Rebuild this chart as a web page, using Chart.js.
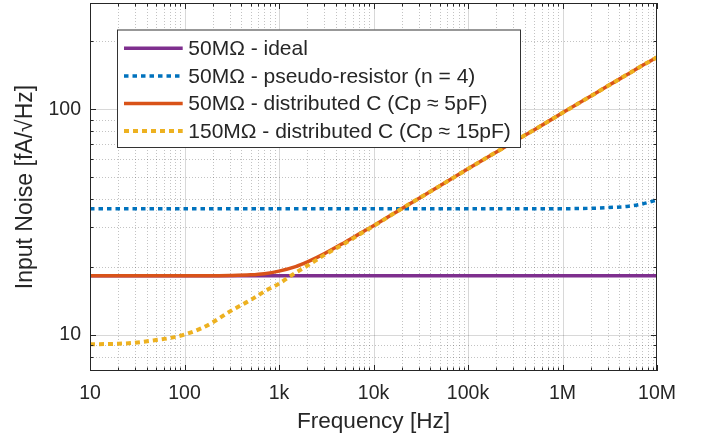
<!DOCTYPE html>
<html>
<head>
<meta charset="utf-8">
<script src="https://cdn.jsdelivr.net/npm/chart.js@4.4.0/dist/chart.umd.min.js"></script>
<style>
  html, body { margin: 0; padding: 0; background: #ffffff; }
  #wrap { width: 705px; height: 443px; }
</style>
</head>
<body>
<div id="wrap"><canvas id="c" width="705" height="443"></canvas></div>
<script>
// ---- data ----
const frequencies   = [10, 20, 30, 50, 70, 100, 150, 200, 300, 500, 700, 1e3, 1.5e3, 2e3, 3e3, 5e3, 7e3, 1e4, 2e4, 5e4, 1e5, 2e5, 5e5, 1e6, 2e6, 3e6, 5e6, 7e6, 1e7];
const idealNoise    = [18.3, 18.3, 18.3, 18.3, 18.3, 18.3, 18.3, 18.3, 18.3, 18.3, 18.3, 18.3, 18.3, 18.3, 18.3, 18.3, 18.3, 18.3, 18.3, 18.3, 18.3, 18.3, 18.3, 18.3, 18.3, 18.3, 18.3, 18.3, 18.3];
const pseudoNoise   = [36.3, 36.3, 36.3, 36.3, 36.3, 36.3, 36.3, 36.3, 36.3, 36.3, 36.3, 36.3, 36.3, 36.3, 36.3, 36.3, 36.3, 36.3, 36.3, 36.3, 36.3, 36.3, 36.3, 36.3, 36.45, 36.7, 37.2, 38.1, 39.7];
const distC50Noise  = [18.3, 18.3, 18.3, 18.3, 18.3, 18.3, 18.3, 18.31, 18.35, 18.48, 18.7, 19.2, 20.1, 21.1, 22.9, 25.8, 28.0, 30.5, 36.4, 45.7, 54.5, 64.8, 81.1, 96.5, 114.6, 126.8, 143.9, 156.5, 170];
const distC150Noise = [9.1, 9.15, 9.25, 9.5, 9.7, 10.05, 10.7, 11.4, 12.7, 14.3, 15.6, 16.9, 18.9, 20.3, 22.6, 25.5, 27.8, 30.4, 36.4, 45.7, 54.5, 64.8, 81.1, 96.5, 114.6, 126.8, 143.9, 156.5, 170];
const seriesLabels  = [
  '50M\u03A9 - ideal',
  '50M\u03A9 - pseudo-resistor (n = 4)',
  '50M\u03A9 - distributed C (Cp \u2248 5pF)',
  '150M\u03A9 - distributed C (Cp \u2248 15pF)'
];
const xTickValues = [10, 100, 1e3, 1e4, 1e5, 1e6, 1e7];
const xTickLabels = ['10', '100', '1k', '10k', '100k', '1M', '10M'];
const yTickValues = [10, 100];
const yTickLabels = ['10', '100'];
const xTitle = 'Frequency [Hz]';
const yTitle = 'Input Noise [fA/\u221AHz]';

// ---- helpers ----
const FONT = '"Liberation Sans", Arial, Helvetica, sans-serif';
const TEXT = '#262626';
const toPoints = vals => frequencies.map((f, i) => ({ x: f, y: vals[i] }));
function logTicks(min, max) {
  const out = [];
  for (let e = -1; e <= 8; e++) {
    for (let m = 1; m <= 9; m++) {
      const v = m * Math.pow(10, e);
      if (v >= min * 0.9999 && v <= max * 1.0001) out.push(+v.toPrecision(6));
    }
  }
  return out;
}
function isMajor(v, list) { return list.some(t => Math.abs(t - v) / t < 1e-6); }

const X_MIN = 10, X_MAX = 1e7, Y_MIN = 6.93, Y_MAX = 296;

const gridPlugin = {
  id: 'gridPlugin',
  beforeDatasetsDraw(chart) {
    const { ctx, chartArea: a, scales: { x, y } } = chart;
    ctx.save();
    ctx.lineWidth = 1;
    x.ticks.forEach(t => {
      const v = t.value;
      const px = Math.round(x.getPixelForValue(v)) + 0.5;
      if (px <= a.left + 1 || px >= a.right - 1) return;
      const major = isMajor(v, xTickValues);
      ctx.strokeStyle = major ? 'rgba(38,38,38,0.18)' : 'rgba(38,38,38,0.28)';
      ctx.setLineDash(major ? [] : [1, 2]);
      ctx.beginPath(); ctx.moveTo(px, a.top); ctx.lineTo(px, a.bottom); ctx.stroke();
    });
    y.ticks.forEach(t => {
      const v = t.value;
      const py = Math.round(y.getPixelForValue(v)) + 0.5;
      if (py <= a.top + 1 || py >= a.bottom - 1) return;
      const major = isMajor(v, yTickValues);
      ctx.strokeStyle = major ? 'rgba(38,38,38,0.18)' : 'rgba(38,38,38,0.28)';
      ctx.setLineDash(major ? [] : [1, 2]);
      ctx.beginPath(); ctx.moveTo(a.left, py); ctx.lineTo(a.right, py); ctx.stroke();
    });
    ctx.restore();
  },
  afterDatasetsDraw(chart) {
    const { ctx, chartArea: a, scales: { x, y } } = chart;
    ctx.save();
    ctx.strokeStyle = TEXT;
    ctx.lineWidth = 1;
    ctx.setLineDash([]);
    ctx.beginPath();
    x.ticks.forEach(t => {
      const px = Math.round(x.getPixelForValue(t.value)) + 0.5;
      const len = isMajor(t.value, xTickValues) ? 6 : 3.5;
      ctx.moveTo(px, a.bottom); ctx.lineTo(px, a.bottom - len);
      ctx.moveTo(px, a.top); ctx.lineTo(px, a.top + len);
    });
    y.ticks.forEach(t => {
      const py = Math.round(y.getPixelForValue(t.value)) + 0.5;
      const len = isMajor(t.value, yTickValues) ? 6 : 3.5;
      ctx.moveTo(a.left, py); ctx.lineTo(a.left + len, py);
      ctx.moveTo(a.right, py); ctx.lineTo(a.right - len, py);
    });
    ctx.stroke();
    ctx.strokeRect(Math.round(a.left) + 0.5, Math.round(a.top) + 0.5,
                   Math.round(a.right - a.left) - 1, Math.round(a.bottom - a.top) - 1);
    ctx.restore();
  },
  afterDraw(chart) {
    const ctx = chart.ctx;
    const ds = chart.data.datasets;
    ctx.save();
    ctx.font = '21px ' + FONT;
    const left = 117, top = 29.5, bottom = 147, right = 520;
    const lineX0 = 124, lineX1 = 182.7, textX = 188.3, firstRow = 48.3, rowH = 27.6;
    ctx.fillStyle = '#ffffff';
    ctx.fillRect(left, top, right - left, bottom - top);
    ctx.strokeStyle = '#333333';
    ctx.lineWidth = 1;
    ctx.strokeRect(left + 0.5, top + 0.5, right - left, bottom - top);
    ds.forEach((d, i) => {
      const yy = firstRow + i * rowH;
      ctx.save();
      ctx.setLineDash(d.borderDash || []);
      ctx.strokeStyle = d.borderColor;
      ctx.lineWidth = d.borderWidth;
      ctx.lineCap = 'butt';
      ctx.beginPath(); ctx.moveTo(lineX0, yy); ctx.lineTo(lineX1, yy); ctx.stroke();
      ctx.restore();
      ctx.fillStyle = TEXT;
      ctx.textBaseline = 'middle';
      ctx.textAlign = 'left';
      ctx.fillText(d.label, textX, yy + 1);
    });
    ctx.restore();
  }
};

const commonLine = { pointRadius: 0, pointHoverRadius: 0, fill: false, cubicInterpolationMode: 'monotone', borderCapStyle: 'butt' };

new Chart(document.getElementById('c'), {
  type: 'line',
  data: {
    datasets: [
      Object.assign({ label: seriesLabels[0], data: toPoints(idealNoise),    borderColor: '#7E2F8E', borderWidth: 3.5, order: 4 }, commonLine),
      Object.assign({ label: seriesLabels[1], data: toPoints(pseudoNoise),   borderColor: '#0072BD', borderWidth: 3.5, borderDash: [4.5, 4], order: 3 }, commonLine),
      Object.assign({ label: seriesLabels[2], data: toPoints(distC50Noise),  borderColor: '#D95319', borderWidth: 3.5, order: 2 }, commonLine),
      Object.assign({ label: seriesLabels[3], data: toPoints(distC150Noise), borderColor: '#EDB120', borderWidth: 4, borderDash: [5, 4], order: 1 }, commonLine)
    ]
  },
  options: {
    responsive: false,
    animation: false,
    devicePixelRatio: 1,
    layout: { padding: { top: 3, right: 48, left: 0, bottom: 0 } },
    plugins: { legend: { display: false }, tooltip: { enabled: false } },
    scales: {
      x: {
        type: 'logarithmic',
        min: X_MIN, max: X_MAX,
        grid: { display: false, drawTicks: false },
        border: { display: false },
        afterBuildTicks: s => { s.ticks = logTicks(X_MIN, X_MAX).map(v => ({ value: v })); },
        afterFit: s => { s.height = 72; s.paddingLeft = 0; s.paddingRight = 0; },
        ticks: {
          autoSkip: false, maxRotation: 0, minRotation: 0, padding: 11,
          color: TEXT, font: { family: FONT, size: 19.5 },
          callback: v => { const i = xTickValues.findIndex(t => Math.abs(t - v) / t < 1e-6); return i >= 0 ? xTickLabels[i] : ''; }
        },
        title: { display: true, text: xTitle, color: TEXT, font: { family: FONT, size: 22.6 }, padding: { top: 0, bottom: 7.5 } }
      },
      y: {
        type: 'logarithmic',
        min: Y_MIN, max: Y_MAX,
        grid: { display: false, drawTicks: false },
        border: { display: false },
        afterBuildTicks: s => { s.ticks = logTicks(Y_MIN, Y_MAX).map(v => ({ value: v })); },
        afterFit: s => { s.width = 90; s.paddingTop = 0; s.paddingBottom = 0; },
        ticks: {
          autoSkip: false, padding: 9,
          color: TEXT, font: { family: FONT, size: 19.5 },
          callback: v => { const i = yTickValues.findIndex(t => Math.abs(t - v) / t < 1e-6); return i >= 0 ? yTickLabels[i] : ''; }
        },
        title: { display: true, text: yTitle, color: TEXT, font: { family: FONT, size: 23 }, padding: { top: 11.5, bottom: 0 } }
      }
    }
  },
  plugins: [gridPlugin]
});
</script>
</body>
</html>
